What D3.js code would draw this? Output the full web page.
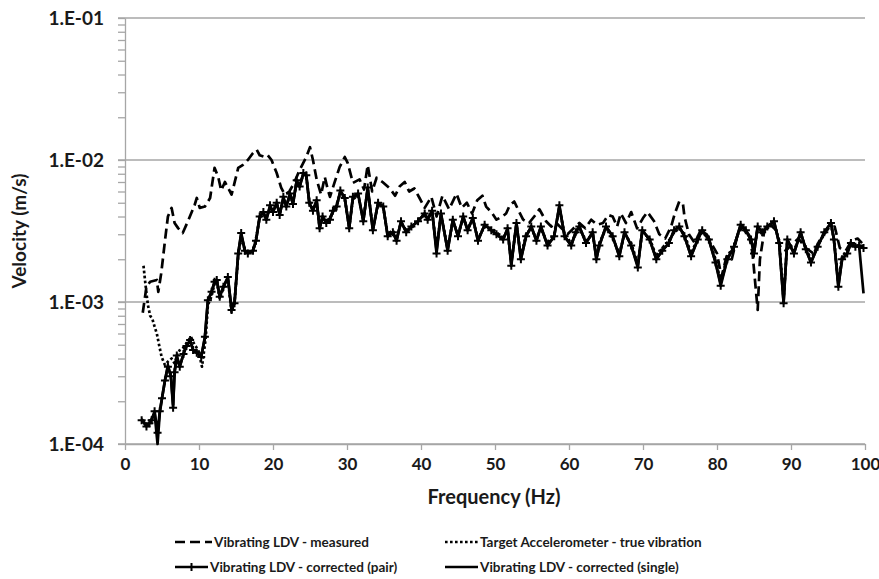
<!DOCTYPE html>
<html>
<head>
<meta charset="utf-8">
<script src="https://cdn.jsdelivr.net/npm/d3@7"></script>
<style>
  body { margin: 0; background: #fff; }
  svg text { font-family: Lato, "Liberation Sans", Arial, sans-serif; font-weight: bold; fill: #1a1a1a; }
</style>
</head>
<body>
<div id="chart"></div>
<script>
// velocities are in mm/s (converted to m/s when plotted)
var measFreq = [
  2.4,2.9,3.4,4.3,4.5,4.9,5.4,5.8,6.3,6.7,
  7.2,7.8,8.5,9.4,9.7,10.1,10.8,11.5,12.1,12.6,
  13.0,13.5,13.9,14.4,14.8,15.3,15.9,16.6,17.3,17.8,
  18.2,18.9,19.3,19.8,20.5,21.1,21.6,22.2,22.8,23.6,
  24.5,25.0,25.4,25.9,26.5,27.0,27.4,27.7,28.3,29.0,
  29.7,30.1,30.8,31.7,32.3,32.8,33.4,34.0,34.8,35.8,
  36.5,37.1,37.8,38.4,39.1,39.8,40.5,41.4,42.1,42.9,
  43.8,44.8,45.5,46.2,46.9,47.6,48.3,48.8,49.5,50.2,
  51.0,51.5,52.0,52.6,53.1,53.8,54.6,55.3,56.0,56.9,
  57.6,58.3,59.0,59.8,60.6,61.4,62.2,63.0,63.8,64.6,
  65.3,65.9,66.5,67.0,67.7,68.4,69.2,70.0,70.6,71.5,
  72.2,73.0,73.8,74.3,74.9,75.4,75.6,76.2,77.0,77.8,
  78.6,79.4,80.0,80.6,81.3,82.0,82.8,83.5,84.3,84.8,
  85.2,85.5,85.8,86.4,87.2,88.0,88.6,89.3,90.0,91.0,
  92.0,93.0,94.0,95.0,95.9,96.6,97.4,98.2,99.0,99.6];
var measVel = [
  0.84,1.28,1.39,1.43,1.18,1.6,2.7,4.0,4.6,3.6,
  3.3,3.06,3.7,4.8,5.4,4.6,4.7,5.4,8.8,7.6,
  6.1,7.0,6.4,5.7,6.9,8.8,9.2,10.0,11.2,11.8,
  10.8,10.5,10.8,10.0,8.1,6.4,5.7,6.0,6.8,8.5,
  10.5,12.3,10.0,7.3,5.7,7.6,6.2,5.5,6.9,8.9,
  10.5,9.5,6.9,7.3,6.2,9.2,6.0,7.5,7.0,6.3,
  5.6,6.5,7.0,6.0,6.3,5.4,4.6,5.5,4.0,5.6,
  4.5,5.8,4.6,5.0,4.2,5.2,5.6,4.7,4.3,3.8,
  4.0,4.2,4.8,5.1,4.5,3.8,3.6,4.0,4.5,3.7,
  3.4,3.6,3.3,3.0,3.3,3.6,3.3,3.8,3.5,3.6,
  4.1,4.0,3.4,4.2,3.6,4.3,3.3,3.9,4.3,3.7,
  3.0,2.8,3.4,4.2,5.1,4.9,4.0,3.0,2.6,3.2,
  3.0,2.5,2.2,1.5,2.1,2.0,3.0,3.4,3.0,2.2,
  1.3,0.88,2.0,3.2,3.5,3.2,2.4,2.3,2.5,2.8,
  2.4,2.2,2.8,3.3,3.4,2.4,2.3,2.7,2.8,2.6];

var trueFreq = [
  2.5,2.7,2.9,3.1,3.4,3.7,4.0,4.3,4.6,4.95,
  5.4,5.8,6.3,6.7,7.2,7.8,8.4,8.9,9.4,9.9,
  10.4,10.9,11.2,11.7,12.1,12.4,12.8,13.3,13.9,14.4,
  14.8,15.3,15.7,16.2,16.6,17.3,17.7,18.2,18.7,19.1,
  19.6,20.0,20.5,20.9,21.4,21.8,22.3,22.7,23.2,23.6,
  24.1,24.5,24.9,25.4,25.9,26.3,26.7,27.2,27.7,28.1,
  28.6,29.1,29.7,30.3,30.8,31.5,32.2,32.8,33.5,34.2,
  34.9,35.5,36.2,36.7,37.3,38.0,38.7,39.6,40.5,40.9,
  41.5,42.1,42.7,43.6,44.3,45.0,45.7,46.3,47.0,47.7,
  48.6,49.5,50.2,51.1,51.7,52.2,52.9,53.5,54.2,54.9,
  55.6,56.2,57.1,58.0,58.7,59.4,60.3,60.9,61.4,62.3,
  63.2,63.7,64.1,65.0,65.9,66.8,67.5,68.4,69.3,69.9,
  70.9,71.8,72.6,73.5,74.2,74.9,75.6,76.5,77.4,78.0,
  78.9,79.8,80.5,81.4,82.3,83.2,83.9,84.6,85.0,85.5,
  86.1,86.8,87.7,88.4,89.0,89.5,90.4,91.3,92.0,92.7,
  93.6,94.5,95.4,95.8,96.4,96.9,97.6,98.1,98.7,99.2,
  99.8];
var trueVel = [
  1.8,1.43,1.15,0.95,0.8,0.76,0.67,0.6,0.5,0.41,
  0.36,0.38,0.4,0.37,0.45,0.47,0.52,0.57,0.5,0.46,
  0.35,0.55,0.95,1.1,1.35,1.4,1.05,1.25,1.45,0.85,
  1.0,2.1,2.9,2.3,2.25,2.3,2.8,3.9,4.2,3.9,
  4.6,4.4,4.9,4.2,5.3,4.8,5.6,5.0,7.0,6.6,
  7.9,7.6,5.2,4.5,5.0,3.4,3.9,3.7,3.9,4.3,
  4.8,5.9,5.3,3.4,5.3,5.6,3.8,6.2,3.3,4.9,
  4.6,3.0,3.2,2.8,3.6,3.2,3.3,3.8,4.1,3.9,
  4.3,2.4,4.1,2.4,3.7,3.0,3.9,3.3,3.8,2.8,
  3.4,3.3,3.1,2.8,3.2,1.9,3.5,2.1,3.0,3.3,
  2.8,3.3,2.6,3.0,4.6,3.0,2.6,3.0,3.3,2.7,
  3.0,2.1,2.6,3.3,2.8,2.2,3.0,2.6,1.85,3.1,
  2.8,2.1,2.4,2.7,3.1,3.3,3.0,2.2,2.8,3.1,
  2.8,2.0,1.4,2.1,2.5,3.4,3.1,2.8,2.3,3.3,
  3.0,3.3,3.6,2.7,1.05,2.7,2.3,3.0,2.4,2.0,
  2.5,3.0,3.5,2.8,1.35,2.1,2.3,2.6,2.5,2.5,
  2.4];

// corrected (pair) and corrected (single) share one frequency grid
var corrFreq = [
  2.25,2.9,3.3,3.6,4.0,4.4,4.7,5.0,5.4,5.8,
  6.2,6.5,6.7,7.0,7.4,7.9,8.3,8.8,9.2,9.7,
  10.3,10.8,11.2,11.7,12.1,12.4,12.8,13.3,13.9,14.4,
  14.8,15.3,15.7,16.2,16.6,17.3,17.7,18.2,18.7,19.1,
  19.6,20.0,20.5,20.9,21.4,21.8,22.3,22.7,23.2,23.6,
  24.1,24.5,24.9,25.4,25.9,26.3,26.7,27.2,27.7,28.1,
  28.6,29.1,29.7,30.3,30.8,31.5,32.2,32.8,33.5,34.2,
  34.9,35.5,36.2,36.7,37.3,38.0,38.7,39.6,40.5,40.9,
  41.5,42.1,42.7,43.6,44.3,45.0,45.7,46.3,47.0,47.7,
  48.6,49.5,50.2,51.1,51.7,52.2,52.9,53.5,54.2,54.9,
  55.6,56.2,57.1,58.0,58.7,59.4,60.3,60.9,61.4,62.3,
  63.2,63.7,64.1,65.0,65.9,66.8,67.5,68.4,69.3,69.9,
  70.9,71.8,72.6,73.5,74.2,74.9,75.6,76.5,77.4,78.0,
  78.9,79.8,80.5,81.4,82.3,83.2,83.9,84.6,85.0,85.5,
  86.1,86.8,87.7,88.4,89.0,89.5,90.4,91.3,92.0,92.7,
  93.6,94.5,95.4,95.8,96.4,96.9,97.6,98.1,98.7,99.2,
  99.8];
var pairVel = [
  0.147,0.133,0.14,0.147,0.17,0.12,0.17,0.21,0.28,0.35,
  0.30,0.18,0.32,0.42,0.35,0.43,0.49,0.54,0.46,0.44,
  0.41,0.57,1.03,1.18,1.39,1.43,1.09,1.28,1.5,0.88,
  0.98,2.2,3.06,2.3,2.2,2.3,2.7,4.0,4.3,3.8,
  4.8,4.3,5.0,4.1,5.5,4.7,5.8,4.9,7.2,6.5,
  8.1,7.8,5.0,4.4,5.2,3.3,4.0,3.6,3.8,4.4,
  4.7,6.1,5.4,3.3,5.5,5.8,3.7,6.4,3.2,5.0,
  4.7,2.9,3.1,2.7,3.7,3.1,3.4,3.7,4.2,3.8,
  4.4,2.2,4.2,2.3,3.8,2.9,4.0,3.2,3.9,2.7,
  3.5,3.2,3.0,2.75,3.3,1.8,3.6,2.0,2.9,3.4,
  2.7,3.4,2.5,2.9,4.8,2.9,2.5,3.1,3.4,2.6,
  3.1,2.0,2.5,3.4,2.9,2.1,3.1,2.5,1.75,3.2,
  2.75,2.0,2.3,2.6,3.2,3.4,2.9,2.1,2.75,3.2,
  2.75,1.9,1.3,2.0,2.45,3.5,3.2,2.75,2.2,3.4,
  3.1,3.4,3.7,2.6,0.98,2.75,2.2,3.1,2.35,1.9,
  2.45,3.1,3.6,2.75,1.28,2.0,2.2,2.6,2.45,2.5,
  2.4];
var singleVel = [
  0.15,0.135,0.14,0.15,0.165,0.10,0.165,0.21,0.28,0.36,
  0.30,0.19,0.32,0.41,0.35,0.43,0.49,0.53,0.46,0.44,
  0.41,0.56,1.02,1.18,1.38,1.42,1.1,1.28,1.48,0.9,
  0.98,2.2,3.0,2.3,2.2,2.3,2.7,4.0,4.3,3.8,
  4.7,4.3,5.0,4.1,5.4,4.7,5.8,4.9,7.1,6.5,
  8.0,7.8,5.0,4.4,5.2,3.3,4.0,3.6,3.8,4.4,
  4.7,6.0,5.4,3.3,5.5,5.8,3.7,6.3,3.2,5.0,
  4.7,2.9,3.1,2.7,3.7,3.1,3.4,3.7,4.2,3.8,
  4.4,2.3,4.2,2.3,3.8,2.9,4.0,3.2,3.9,2.7,
  3.5,3.2,3.0,2.75,3.3,1.85,3.6,2.0,2.9,3.4,
  2.7,3.4,2.5,2.9,4.7,2.9,2.5,3.1,3.4,2.6,
  3.1,2.0,2.5,3.4,2.9,2.1,3.1,2.5,1.8,3.2,
  2.75,2.0,2.3,2.6,3.2,3.4,2.9,2.1,2.75,3.2,
  2.75,1.9,1.35,2.0,2.45,3.5,3.2,2.75,2.2,3.4,
  3.1,3.4,3.7,2.6,1.0,2.75,2.2,3.1,2.35,1.9,
  2.45,3.1,3.6,2.75,1.3,2.0,2.2,2.6,2.45,2.5,
  1.15];

var xTicks = [0,10,20,30,40,50,60,70,80,90,100];
var yMajor = [1e-4,1e-3,1e-2,1e-1];
var yMinorSteps = [2,3,4,5,6,7,8,9];
var legendLabels = ["Vibrating LDV - measured", "Target Accelerometer - true vibration",
                    "Vibrating LDV - corrected (pair)", "Vibrating LDV - corrected (single)"];

// set the dimensions of the graph
var width = 879, height = 579;
var plot = {left: 125, right: 865, top: 18, bottom: 444};

var svg = d3.select("#chart").append("svg")
    .attr("width", width)
    .attr("height", height);

var x = d3.scaleLinear().domain([0, 100]).range([plot.left, plot.right]);
var y = d3.scaleLog().domain([1e-4, 1e-1]).range([plot.bottom, plot.top]);

// major gridlines (they stick out left of the axis like ticks)
svg.append("g").selectAll("line")
  .data(yMajor)
  .enter().append("line")
    .attr("x1", plot.left - 7).attr("x2", plot.right)
    .attr("y1", function(d) { return y(d); })
    .attr("y2", function(d) { return y(d); })
    .attr("stroke", "#a6a6a6")
    .attr("stroke-width", 1.3);

// y axis: majors plus minor ticks 2..9 in each decade
var yTickVals = [];
yMajor.forEach(function(m) {
  yTickVals.push(m);
  if (m < 1e-1) yMinorSteps.forEach(function(k) { yTickVals.push(m * k); });
});

var yAxis = svg.append("g")
  .attr("transform", "translate(" + plot.left + ",0)")
  .call(d3.axisLeft(y).tickValues(yTickVals).tickSize(7).tickSizeOuter(0)
    .tickFormat(function(d) {
      return yMajor.indexOf(d) >= 0 ? "1.E-0" + (-Math.round(Math.log10(d))) : "";
    }));
yAxis.select(".domain").attr("stroke", "#a6a6a6").attr("stroke-width", 1.3);
yAxis.selectAll(".tick line").attr("stroke", "#a6a6a6").attr("stroke-width", 1.3);
yAxis.selectAll(".tick text")
  .attr("x", -21)
  .style("font-size", "19px")
  .style("font-family", "Lato, 'Liberation Sans', Arial, sans-serif")
  .style("font-weight", "bold")
  .attr("fill", "#1a1a1a");

// x axis
var xAxis = svg.append("g")
  .attr("transform", "translate(0," + plot.bottom + ")")
  .call(d3.axisBottom(x).tickValues(xTicks).tickSize(6).tickSizeOuter(0));
xAxis.select(".domain").attr("stroke", "#a6a6a6").attr("stroke-width", 1.3);
xAxis.selectAll(".tick line").attr("stroke", "#a6a6a6").attr("stroke-width", 1.3);
xAxis.selectAll(".tick text")
  .attr("y", 14)
  .style("font-size", "17px")
  .style("font-family", "Lato, 'Liberation Sans', Arial, sans-serif")
  .style("font-weight", "bold")
  .attr("fill", "#1a1a1a");

// axis titles
svg.append("text")
  .attr("x", 494)
  .attr("y", 504)
  .attr("text-anchor", "middle")
  .style("font-size", "20px")
  .text("Frequency (Hz)");

svg.append("text")
  .attr("transform", "translate(26," + 231 + ") rotate(-90)")
  .attr("text-anchor", "middle")
  .style("font-size", "19px")
  .text("Velocity (m/s)");

function series(freq, vel) {
  return freq.map(function(f, i) { return {f: f, v: vel[i] / 1000}; });
}

var line = d3.line()
  .x(function(d) { return x(d.f); })
  .y(function(d) { return y(d.v); });

var styles = [
  {data: series(measFreq, measVel), dash: "10,5"},
  {data: series(trueFreq, trueVel), dash: "2.6,2.4"},
  {data: series(corrFreq, pairVel), dash: null, marker: true},
  {data: series(corrFreq, singleVel), dash: null}
];

var lines = svg.append("g");
styles.forEach(function(s) {
  lines.append("path")
    .datum(s.data)
    .attr("fill", "none")
    .attr("stroke", "#000")
    .attr("stroke-width", 2.7)
    .attr("stroke-linejoin", "round")
    .attr("stroke-dasharray", s.dash)
    .attr("d", line);
  if (s.marker) {
    lines.selectAll(null)
      .data(s.data)
      .enter().append("path")
        .attr("transform", function(d) { return "translate(" + x(d.f) + "," + y(d.v) + ")"; })
        .attr("d", "M-4,0H4M0,-4V4")
        .attr("stroke", "#000")
        .attr("stroke-width", 2);
  }
});

// legend
var legendPos = [[175, 542], [445, 542], [175, 567], [445, 567]];
var legend = svg.append("g");
styles.forEach(function(s, i) {
  var p = legendPos[i];
  var len = i === 0 ? 37 : 33;
  legend.append("line")
    .attr("x1", p[0]).attr("x2", p[0] + len)
    .attr("y1", p[1]).attr("y2", p[1])
    .attr("stroke", "#000")
    .attr("stroke-width", 2.7)
    .attr("stroke-dasharray", s.dash);
  if (s.marker) {
    legend.append("path")
      .attr("transform", "translate(" + (p[0] + len / 2) + "," + p[1] + ")")
      .attr("d", "M-4,0H4M0,-4V4")
      .attr("stroke", "#000")
      .attr("stroke-width", 2);
  }
  legend.append("text")
    .attr("x", p[0] + len + 2)
    .attr("y", p[1])
    .attr("dy", "0.35em")
    .style("font-size", "13.5px")
    .text(legendLabels[i]);
});
</script>
</body>
</html>
